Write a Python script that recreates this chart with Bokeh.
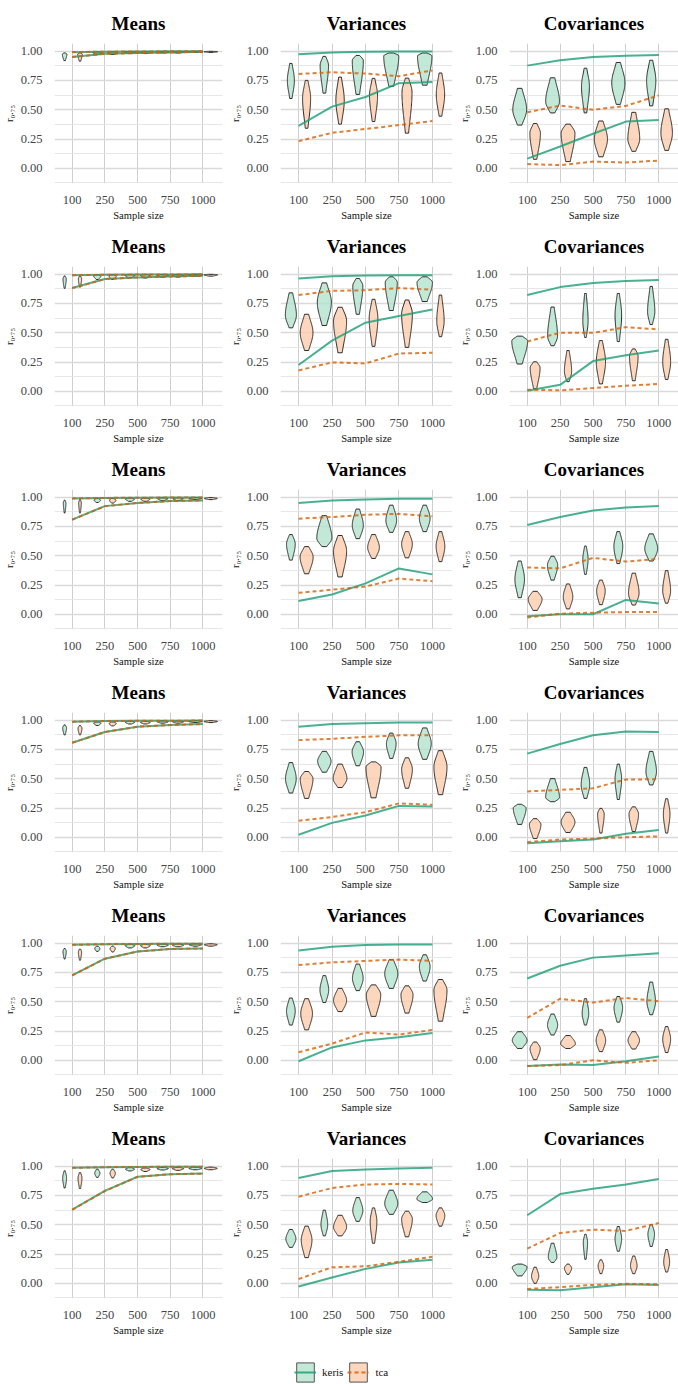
import numpy as np
from bokeh.plotting import figure
from bokeh.layouts import gridplot, column
from bokeh.models import (Range1d, FixedTicker, NumeralTickFormatter, Legend, LegendItem,
                          ColumnDataSource)
from bokeh.embed import file_html
from bokeh.resources import INLINE

# ---------------- data ----------------
SAMPLE_SIZES = ["100", "250", "500", "750", "1000"]
PANEL_TITLES = ["Means", "Variances", "Covariances"]
METHODS = ["keris", "tca"]
Y_TICKS = [0.0, 0.25, 0.5, 0.75, 1.0]
Y_MINOR = [-0.125, 0.125, 0.375, 0.625, 0.875]

# ---- Means: interval lines (rows = 6 settings, cols = sample sizes)
MEANS_KERIS_UP = [[0.992, 0.996, 0.998, 0.999, 0.999], [0.992, 0.995, 0.997, 0.998, 0.999],
                  [0.990, 0.994, 0.996, 0.997, 0.998], [0.988, 0.993, 0.995, 0.996, 0.997],
                  [0.986, 0.992, 0.994, 0.995, 0.996], [0.986, 0.992, 0.994, 0.995, 0.996]]
MEANS_KERIS_LO = [[0.951, 0.978, 0.985, 0.990, 0.995], [0.882, 0.959, 0.973, 0.981, 0.986],
                  [0.809, 0.924, 0.951, 0.967, 0.973], [0.808, 0.899, 0.945, 0.959, 0.967],
                  [0.726, 0.868, 0.929, 0.951, 0.956], [0.630, 0.789, 0.910, 0.932, 0.937]]
MEANS_TCA_UP = [[0.993, 0.996, 0.998, 0.999, 0.999], [0.992, 0.995, 0.997, 0.998, 0.999],
                [0.990, 0.994, 0.996, 0.997, 0.998], [0.988, 0.993, 0.995, 0.996, 0.997],
                [0.986, 0.992, 0.994, 0.995, 0.996], [0.986, 0.992, 0.994, 0.995, 0.996]]
MEANS_TCA_LO = [[0.951, 0.977, 0.985, 0.990, 0.995], [0.881, 0.958, 0.973, 0.981, 0.986],
                [0.808, 0.923, 0.951, 0.967, 0.973], [0.807, 0.899, 0.945, 0.959, 0.967],
                [0.725, 0.867, 0.929, 0.951, 0.956], [0.628, 0.788, 0.909, 0.932, 0.937]]

# ---- Means: violins (min, max, mode, width)
MEANS_KERIS_VMIN = [[0.920, 0.975, 0.982, 0.986, 0.990], [0.880, 0.955, 0.970, 0.976, 0.984],
                    [0.865, 0.955, 0.965, 0.972, 0.980], [0.875, 0.955, 0.968, 0.975, 0.980],
                    [0.865, 0.930, 0.960, 0.970, 0.975], [0.815, 0.905, 0.960, 0.968, 0.970]]
MEANS_KERIS_VMAX = [[0.985, 0.995, 0.997, 0.998, 0.999], [0.985, 0.995, 0.997, 0.998, 0.999],
                    [0.975, 0.990, 0.993, 0.995, 0.997], [0.960, 0.985, 0.992, 0.995, 0.997],
                    [0.955, 0.975, 0.990, 0.993, 0.995], [0.960, 0.975, 0.988, 0.990, 0.992]]
MEANS_KERIS_VMODE = [[0.975, 0.990, 0.993, 0.995, 0.996], [0.960, 0.985, 0.990, 0.993, 0.995],
                     [0.950, 0.975, 0.985, 0.988, 0.990], [0.935, 0.975, 0.985, 0.988, 0.990],
                     [0.930, 0.955, 0.980, 0.985, 0.988], [0.900, 0.940, 0.975, 0.980, 0.982]]
MEANS_KERIS_VWIDTH = [[0.14, 0.30, 0.36, 0.40, 0.45], [0.10, 0.22, 0.30, 0.36, 0.45],
                      [0.08, 0.20, 0.28, 0.32, 0.40], [0.12, 0.22, 0.30, 0.35, 0.42],
                      [0.10, 0.16, 0.30, 0.35, 0.40], [0.12, 0.16, 0.28, 0.35, 0.40]]
MEANS_TCA_VMIN = [[0.915, 0.972, 0.980, 0.985, 0.990], [0.890, 0.955, 0.968, 0.976, 0.984],
                  [0.865, 0.950, 0.965, 0.972, 0.980], [0.875, 0.952, 0.968, 0.975, 0.980],
                  [0.855, 0.925, 0.960, 0.970, 0.975], [0.810, 0.900, 0.955, 0.965, 0.970]]
MEANS_TCA_VMAX = [[0.985, 0.994, 0.996, 0.998, 0.999], [0.985, 0.995, 0.997, 0.998, 0.999],
                  [0.980, 0.990, 0.993, 0.995, 0.997], [0.955, 0.985, 0.990, 0.994, 0.996],
                  [0.950, 0.975, 0.990, 0.993, 0.995], [0.945, 0.975, 0.985, 0.990, 0.992]]
MEANS_TCA_VMODE = [[0.975, 0.988, 0.992, 0.995, 0.996], [0.960, 0.985, 0.990, 0.993, 0.995],
                   [0.950, 0.975, 0.985, 0.988, 0.990], [0.930, 0.972, 0.982, 0.987, 0.990],
                   [0.925, 0.955, 0.980, 0.985, 0.988], [0.900, 0.940, 0.972, 0.980, 0.982]]
MEANS_TCA_VWIDTH = [[0.14, 0.30, 0.34, 0.40, 0.42], [0.10, 0.22, 0.30, 0.35, 0.42],
                    [0.08, 0.20, 0.28, 0.32, 0.40], [0.12, 0.22, 0.30, 0.35, 0.42],
                    [0.10, 0.16, 0.30, 0.35, 0.40], [0.12, 0.16, 0.28, 0.35, 0.40]]

# ---- Variances: interval lines
VAR_KERIS_UP = [[0.975, 0.990, 0.995, 0.997, 0.998], [0.964, 0.982, 0.990, 0.992, 0.992],
                [0.951, 0.973, 0.981, 0.986, 0.986], [0.945, 0.967, 0.975, 0.981, 0.981],
                [0.937, 0.970, 0.984, 0.989, 0.989], [0.899, 0.959, 0.973, 0.981, 0.986]]
VAR_KERIS_LO = [[0.363, 0.527, 0.609, 0.727, 0.738], [0.225, 0.433, 0.586, 0.644, 0.699],
                [0.114, 0.169, 0.264, 0.392, 0.341], [0.022, 0.123, 0.186, 0.268, 0.263],
                [-0.008, 0.110, 0.170, 0.197, 0.233], [-0.027, 0.049, 0.123, 0.178, 0.200]]
VAR_TCA_UP = [[0.806, 0.820, 0.809, 0.787, 0.836], [0.822, 0.858, 0.863, 0.882, 0.868],
              [0.817, 0.831, 0.850, 0.858, 0.837], [0.830, 0.841, 0.858, 0.871, 0.871],
              [0.814, 0.836, 0.849, 0.860, 0.849], [0.740, 0.814, 0.844, 0.849, 0.844]]
VAR_TCA_LO = [[0.232, 0.303, 0.336, 0.369, 0.404], [0.178, 0.247, 0.238, 0.323, 0.329],
              [0.183, 0.210, 0.237, 0.305, 0.283], [0.142, 0.173, 0.214, 0.290, 0.277],
              [0.068, 0.142, 0.238, 0.219, 0.260], [0.036, 0.137, 0.145, 0.184, 0.227]]

# ---- Variances: violins
VAR_KERIS_VMIN = [[0.596, 0.642, 0.631, 0.700, 0.710], [0.542, 0.562, 0.658, 0.690, 0.767],
                  [0.463, 0.578, 0.646, 0.700, 0.706], [0.378, 0.556, 0.611, 0.674, 0.666],
                  [0.301, 0.493, 0.595, 0.614, 0.677], [0.307, 0.405, 0.529, 0.589, 0.690]]
VAR_KERIS_VMAX = [[0.896, 0.956, 0.964, 0.985, 0.985], [0.841, 0.926, 0.964, 0.978, 0.978],
                  [0.681, 0.842, 0.899, 0.932, 0.932], [0.638, 0.734, 0.816, 0.890, 0.934],
                  [0.532, 0.723, 0.822, 0.860, 0.901], [0.460, 0.625, 0.732, 0.795, 0.781]]
VAR_KERIS_VMODE = [[0.750, 0.880, 0.920, 0.960, 0.960], [0.650, 0.760, 0.900, 0.930, 0.930],
                   [0.600, 0.650, 0.760, 0.800, 0.820], [0.500, 0.650, 0.730, 0.800, 0.800],
                   [0.420, 0.600, 0.700, 0.740, 0.800], [0.380, 0.500, 0.620, 0.680, 0.720]]
VAR_KERIS_VWIDTH = [[0.21, 0.25, 0.33, 0.45, 0.43], [0.33, 0.42, 0.30, 0.36, 0.46],
                    [0.26, 0.45, 0.33, 0.32, 0.32], [0.32, 0.40, 0.34, 0.29, 0.39],
                    [0.26, 0.26, 0.32, 0.39, 0.32], [0.30, 0.20, 0.30, 0.39, 0.47]]
VAR_TCA_VMIN = [[0.342, 0.377, 0.399, 0.300, 0.445], [0.348, 0.329, 0.384, 0.375, 0.466],
                [0.346, 0.319, 0.477, 0.482, 0.450], [0.332, 0.425, 0.337, 0.419, 0.364],
                [0.260, 0.416, 0.375, 0.403, 0.334], [0.219, 0.405, 0.342, 0.397, 0.488]]
VAR_TCA_VMAX = [[0.751, 0.779, 0.768, 0.770, 0.814], [0.658, 0.718, 0.786, 0.780, 0.822],
                [0.578, 0.673, 0.681, 0.706, 0.706], [0.562, 0.625, 0.644, 0.679, 0.740],
                [0.526, 0.614, 0.644, 0.636, 0.690], [0.488, 0.581, 0.644, 0.616, 0.644]]
VAR_TCA_VMODE = [[0.600, 0.580, 0.620, 0.650, 0.630], [0.500, 0.600, 0.620, 0.660, 0.600],
                 [0.490, 0.540, 0.570, 0.600, 0.580], [0.500, 0.500, 0.600, 0.580, 0.600],
                 [0.400, 0.510, 0.560, 0.560, 0.600], [0.370, 0.480, 0.530, 0.550, 0.580]]
VAR_TCA_VWIDTH = [[0.24, 0.25, 0.24, 0.30, 0.25], [0.38, 0.39, 0.26, 0.32, 0.22],
                  [0.39, 0.39, 0.35, 0.32, 0.26], [0.38, 0.41, 0.45, 0.32, 0.39],
                  [0.35, 0.39, 0.43, 0.36, 0.39], [0.32, 0.39, 0.20, 0.32, 0.26]]

# ---- Covariances: interval lines
COV_KERIS_UP = [[0.877, 0.923, 0.951, 0.962, 0.967], [0.822, 0.890, 0.926, 0.942, 0.951],
                [0.763, 0.831, 0.886, 0.913, 0.924], [0.715, 0.797, 0.871, 0.904, 0.899],
                [0.699, 0.808, 0.877, 0.896, 0.915], [0.581, 0.762, 0.808, 0.844, 0.890]]
COV_KERIS_LO = [[0.082, 0.186, 0.295, 0.399, 0.413], [0.005, 0.055, 0.258, 0.307, 0.348],
                [-0.016, 0.000, 0.000, 0.123, 0.093], [-0.052, -0.033, -0.019, 0.030, 0.063],
                [-0.049, -0.036, -0.041, -0.008, 0.033], [-0.055, -0.060, -0.033, -0.008, -0.014]]
COV_TCA_UP = [[0.478, 0.536, 0.500, 0.533, 0.623], [0.425, 0.501, 0.499, 0.548, 0.529],
              [0.400, 0.392, 0.482, 0.450, 0.474], [0.392, 0.405, 0.419, 0.493, 0.496],
              [0.362, 0.526, 0.493, 0.532, 0.504], [0.296, 0.430, 0.458, 0.447, 0.515]]
COV_TCA_LO = [[0.036, 0.027, 0.057, 0.049, 0.066], [0.014, 0.008, 0.027, 0.047, 0.063],
              [-0.027, 0.005, 0.014, 0.019, 0.019], [-0.041, -0.019, -0.011, 0.000, 0.008],
              [-0.049, -0.041, 0.000, -0.022, 0.000], [-0.049, -0.033, -0.014, -0.005, -0.008]]

# ---- Covariances: violins
COV_KERIS_VMIN = [[0.369, 0.473, 0.473, 0.546, 0.533], [0.233, 0.389, 0.460, 0.425, 0.570],
                  [0.142, 0.292, 0.341, 0.433, 0.455], [0.110, 0.304, 0.332, 0.323, 0.447],
                  [0.101, 0.216, 0.301, 0.326, 0.389], [0.063, 0.178, 0.205, 0.274, 0.315]]
COV_KERIS_VMAX = [[0.683, 0.773, 0.855, 0.904, 0.923], [0.471, 0.720, 0.836, 0.836, 0.896],
                  [0.455, 0.496, 0.583, 0.706, 0.687], [0.282, 0.501, 0.597, 0.625, 0.734],
                  [0.244, 0.395, 0.526, 0.545, 0.668], [0.164, 0.342, 0.419, 0.485, 0.501]]
COV_KERIS_VMODE = [[0.500, 0.570, 0.700, 0.730, 0.750], [0.430, 0.470, 0.600, 0.650, 0.680],
                   [0.300, 0.420, 0.470, 0.580, 0.560], [0.250, 0.340, 0.450, 0.500, 0.560],
                   [0.170, 0.300, 0.400, 0.450, 0.500], [0.140, 0.220, 0.350, 0.380, 0.420]]
COV_KERIS_VWIDTH = [[0.42, 0.42, 0.24, 0.40, 0.28], [0.48, 0.30, 0.16, 0.20, 0.22],
                    [0.29, 0.31, 0.16, 0.27, 0.39], [0.39, 0.42, 0.26, 0.20, 0.32],
                    [0.45, 0.31, 0.20, 0.26, 0.26], [0.45, 0.26, 0.13, 0.20, 0.20]]
COV_TCA_VMIN = [[0.077, 0.057, 0.098, 0.145, 0.153], [0.022, 0.082, 0.063, 0.090, 0.101],
                [0.033, 0.046, 0.082, 0.079, 0.095], [-0.011, 0.041, 0.036, 0.049, 0.036],
                [0.005, 0.101, 0.074, 0.096, 0.066], [0.000, 0.077, 0.082, 0.082, 0.096]]
COV_TCA_VMAX = [[0.383, 0.377, 0.404, 0.478, 0.508], [0.252, 0.348, 0.433, 0.362, 0.444],
                [0.196, 0.259, 0.292, 0.351, 0.373], [0.159, 0.214, 0.247, 0.260, 0.329],
                [0.156, 0.211, 0.260, 0.244, 0.288], [0.137, 0.164, 0.200, 0.233, 0.288]]
COV_TCA_VMODE = [[0.300, 0.300, 0.250, 0.250, 0.300], [0.200, 0.170, 0.250, 0.300, 0.250],
                 [0.130, 0.150, 0.200, 0.180, 0.200], [0.110, 0.130, 0.200, 0.200, 0.200],
                 [0.100, 0.140, 0.170, 0.170, 0.180], [0.060, 0.130, 0.150, 0.150, 0.180]]
COV_TCA_VWIDTH = [[0.32, 0.42, 0.40, 0.36, 0.35], [0.30, 0.22, 0.28, 0.26, 0.24],
                  [0.42, 0.29, 0.26, 0.32, 0.24], [0.35, 0.42, 0.20, 0.29, 0.20],
                  [0.31, 0.45, 0.29, 0.35, 0.24], [0.22, 0.22, 0.17, 0.20, 0.18]]

# ---------------- styling ----------------
FONT = "Liberation Serif"
LINE_COL = {"keris": "#1b9e77", "tca": "#d95f02"}
FILL_COL = {"keris": "#b3e2cd", "tca": "#fdcdac"}
DASH = {"keris": "solid", "tca": "4 3"}
DODGE = {"keris": -0.23, "tca": 0.24}

PANEL_DATA = [
    dict(keris=(MEANS_KERIS_UP, MEANS_KERIS_LO, MEANS_KERIS_VMIN, MEANS_KERIS_VMAX, MEANS_KERIS_VMODE, MEANS_KERIS_VWIDTH),
         tca=(MEANS_TCA_UP, MEANS_TCA_LO, MEANS_TCA_VMIN, MEANS_TCA_VMAX, MEANS_TCA_VMODE, MEANS_TCA_VWIDTH)),
    dict(keris=(VAR_KERIS_UP, VAR_KERIS_LO, VAR_KERIS_VMIN, VAR_KERIS_VMAX, VAR_KERIS_VMODE, VAR_KERIS_VWIDTH),
         tca=(VAR_TCA_UP, VAR_TCA_LO, VAR_TCA_VMIN, VAR_TCA_VMAX, VAR_TCA_VMODE, VAR_TCA_VWIDTH)),
    dict(keris=(COV_KERIS_UP, COV_KERIS_LO, COV_KERIS_VMIN, COV_KERIS_VMAX, COV_KERIS_VMODE, COV_KERIS_VWIDTH),
         tca=(COV_TCA_UP, COV_TCA_LO, COV_TCA_VMIN, COV_TCA_VMAX, COV_TCA_VMODE, COV_TCA_VWIDTH)),
]

COL_W = [224, 230, 224]
BORDER_L = [51, 56, 55]
BORDER_R = [2, 2, 0]
ROW_H = 223


def violin_outline(xc, lo, hi, mode, width):
    ys = np.linspace(lo, hi, 48)
    sd_lo = max(mode - lo, 1e-3) / 1.5
    sd_hi = max(hi - mode, 1e-3) / 1.5
    sd = np.where(ys < mode, sd_lo, sd_hi)
    hw = width / 2.0 * np.exp(-0.5 * ((ys - mode) / sd) ** 2)
    xs = np.concatenate([xc - hw, (xc + hw)[::-1]])
    yy = np.concatenate([ys, ys[::-1]])
    return list(xs), list(yy)


x_pos = list(range(1, len(SAMPLE_SIZES) + 1))
rows = []
for r in range(6):
    row_figs = []
    for c, title in enumerate(PANEL_TITLES):
        p = figure(width=COL_W[c], height=ROW_H, output_backend="svg", toolbar_location=None,
                   x_range=Range1d(0.46, 5.6), y_range=Range1d(-0.13, 1.066),
                   min_border_left=BORDER_L[c], min_border_right=BORDER_R[c],
                   min_border_top=43, min_border_bottom=34)
        p.title.text = title
        p.title.align = "center"
        p.title.text_font = FONT
        p.title.text_font_size = "19px"
        p.title.text_font_style = "bold"
        p.title.text_color = "#000000"
        p.title.standoff = 20
        p.outline_line_color = None
        p.background_fill_color = "white"

        # axes
        p.xaxis.ticker = FixedTicker(ticks=x_pos)
        p.xaxis.major_label_overrides = {i + 1: s for i, s in enumerate(SAMPLE_SIZES)}
        p.xaxis.axis_label = "Sample size"
        p.yaxis.ticker = FixedTicker(ticks=Y_TICKS, minor_ticks=Y_MINOR)
        p.yaxis.formatter = NumeralTickFormatter(format="0.00")
        p.yaxis.axis_label = "r₀.₇₅"
        for ax in (p.xaxis[0], p.yaxis[0]):
            ax.axis_line_color = None
            ax.major_tick_line_color = None
            ax.minor_tick_line_color = None
            ax.major_label_text_font = FONT
            ax.major_label_text_font_size = "12.5px"
            ax.major_label_text_color = "#454545"
            ax.major_label_standoff = 6
            ax.axis_label_text_font = FONT
            ax.axis_label_text_font_size = "10.5px"
            ax.axis_label_text_font_style = "normal"
            ax.axis_label_text_color = "#111111"
            ax.axis_label_standoff = 3

        # grid
        p.xgrid.ticker = FixedTicker(ticks=x_pos)
        p.xgrid.grid_line_color = "#cfcfcf"
        p.xgrid.grid_line_width = 1
        p.ygrid.ticker = FixedTicker(ticks=Y_TICKS, minor_ticks=Y_MINOR)
        p.ygrid.grid_line_color = "#dadada"
        p.ygrid.grid_line_width = 1.4
        p.ygrid.minor_grid_line_color = "#e4e4e4"
        p.ygrid.minor_grid_line_width = 0.9

        data = PANEL_DATA[c]
        # violins
        for m in METHODS:
            up, lo, vmin, vmax, vmode, vwidth = data[m]
            xs_all, ys_all = [], []
            for i, xp in enumerate(x_pos):
                xs, ys = violin_outline(xp + DODGE[m], vmin[r][i], vmax[r][i], vmode[r][i], vwidth[r][i])
                xs_all.append(xs)
                ys_all.append(ys)
            p.patches(xs=xs_all, ys=ys_all, fill_color=FILL_COL[m], fill_alpha=0.8,
                      line_color="#2b2b2b", line_width=1)
        # interval lines
        for m in METHODS:
            up, lo, vmin, vmax, vmode, vwidth = data[m]
            for series in (up[r], lo[r]):
                p.line(x=x_pos, y=series, line_color=LINE_COL[m], line_width=2,
                       line_alpha=0.8, line_dash=DASH[m])
        row_figs.append(p)
    rows.append(row_figs)

grid = gridplot(rows, toolbar_location=None)

# ---------------- legend ----------------
lf = figure(width=678, height=46, output_backend="svg", toolbar_location=None,
            x_range=Range1d(0, 1), y_range=Range1d(0, 1),
            min_border_left=0, min_border_right=0, min_border_top=0, min_border_bottom=0)
lf.axis.visible = False
lf.grid.visible = False
lf.outline_line_color = None
items = []
for m in METHODS:
    # placeholder glyphs kept outside the visible range; they only feed the legend keys
    src = ColumnDataSource(dict(x=[5, 6], y=[5, 5]))
    rr = lf.rect(x="x", y="y", width=0.1, height=0.1, source=src, fill_color=FILL_COL[m],
                 fill_alpha=0.8, line_color="#555555", line_width=1)
    rl = lf.line(x="x", y="y", source=src, line_color=LINE_COL[m], line_width=2,
                 line_alpha=0.85, line_dash=DASH[m])
    items.append(LegendItem(label=m, renderers=[rr, rl]))
legend = Legend(items=items, orientation="horizontal", location=(294, 0),
                glyph_width=22, glyph_height=24, label_standoff=6, spacing=4,
                padding=0, margin=0, border_line_color=None, background_fill_alpha=0,
                label_text_font=FONT, label_text_font_size="11px", label_text_color="#111111")
lf.add_layout(legend, "center")

layout = column(grid, lf)
open("out.html", "w").write(file_html(layout, INLINE))
